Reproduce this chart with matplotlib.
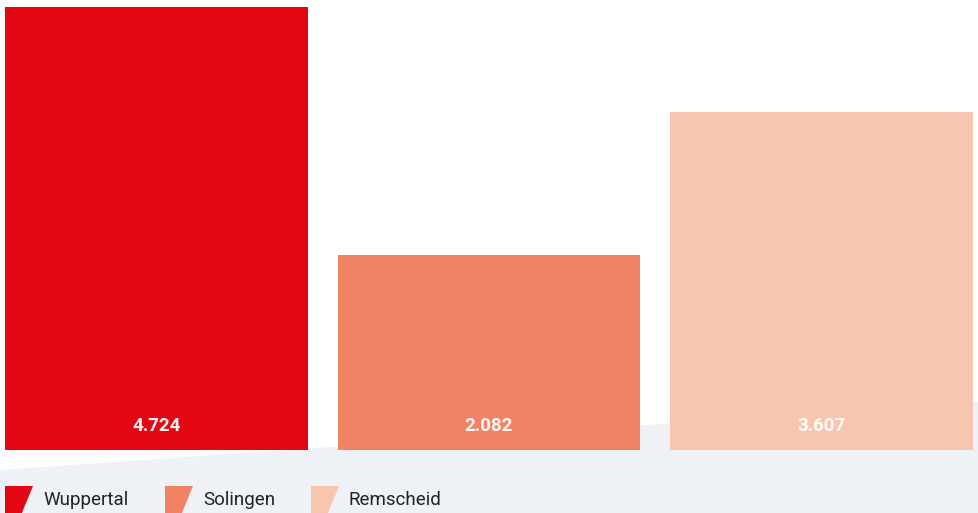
import matplotlib

matplotlib.use("Agg")
import matplotlib.pyplot as plt
from matplotlib.patches import Polygon

cities = ["Wuppertal", "Solingen", "Remscheid"]
values = [4.724, 2.082, 3.607]
labels = ["4.724", "2.082", "3.607"]
colors = ["#e30613", "#f18263", "#f8c5ae"]

W, H = 979, 513
plt.rcParams["font.family"] = ["Roboto", "DejaVu Sans"]

fig = plt.figure(figsize=(W / 100, H / 100), dpi=100)

# background layer in pixel coordinates (y from top)
bg = fig.add_axes([0, 0, 1, 1], zorder=0)
bg.set_xlim(0, W)
bg.set_ylim(H, 0)
bg.axis("off")
bg.add_patch(Polygon([(0, 470), (W, 402), (W, H), (0, H)], closed=True,
                     facecolor="#eef1f6", edgecolor="none"))

# legend: slanted markers + names
for i, (name, c) in enumerate(zip(cities, colors)):
    x0 = [5, 165, 311][i]
    bg.add_patch(Polygon([(x0, 486), (x0 + 28, 486), (x0 + 14, 520), (x0, 520)],
                         closed=True, facecolor=c, edgecolor="none"))
    bg.text(x0 + 38, 500, name, fontsize=13.5, color="#222222",
            va="center", ha="left")

# bars
ax = fig.add_axes([0, 1 - 450 / H, 1, (450 - 7) / H], zorder=1)
ax.patch.set_alpha(0)
x = list(range(len(values)))
ax.bar(x, values, width=0.911, color=colors)
ax.set_xlim((0 - 156.5) / 332.5, (W - 156.5) / 332.5)
ax.set_ylim(0, 4.724)
ax.axis("off")

for xi, lab in zip(x, labels):
    ax.text(xi, 0.26, lab, ha="center", va="center", color="white",
            fontsize=13.5, fontweight="bold", alpha=0.95)

fig.savefig("out.png", dpi=100)
plt.close(fig)
